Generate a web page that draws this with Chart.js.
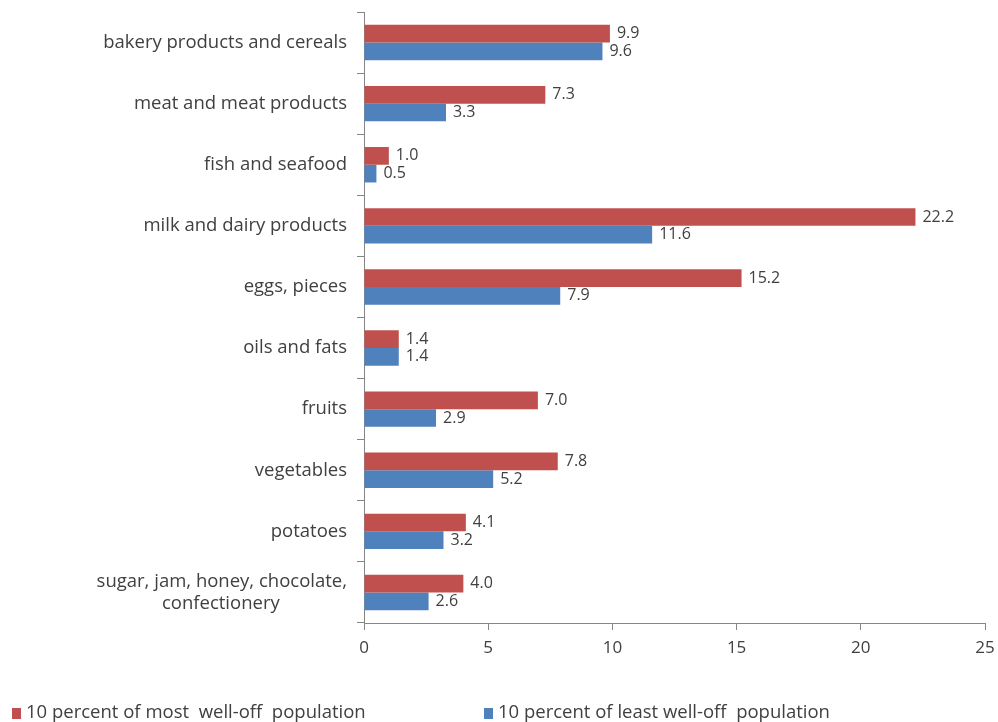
<!DOCTYPE html>
<html>
<head>
<meta charset="utf-8">
<script src="https://cdn.jsdelivr.net/npm/chart.js@4.4.0/dist/chart.umd.min.js"></script>
<style>
  body { margin: 0; background: #fff; }
  #wrap { position: relative; width: 998px; height: 722px; }
  .legend { position: absolute; top: 698px; font: 18.5px "Open Sans", sans-serif; color: #404040; white-space: pre; }
  .legend span.box { display: inline-block; width: 9px; height: 11px; margin-right: 5px; vertical-align: -1px; }
</style>
</head>
<body>
<div id="wrap">
  <canvas id="chart" width="998" height="722"></canvas>
  <div class="legend" style="left:12px"><span class="box" style="background:#C0504D"></span>10 percent of most  well-off  population</div>
  <div class="legend" style="left:484px"><span class="box" style="background:#4F81BD"></span>10 percent of least well-off  population</div>
</div>
<script>
const categories = [
  'bakery products and cereals',
  'meat and meat products',
  'fish and seafood',
  'milk and dairy products',
  'eggs, pieces',
  'oils and fats',
  'fruits',
  'vegetables',
  'potatoes',
  ['sugar, jam, honey, chocolate,', 'confectionery']
];
const mostWellOff = [9.9, 7.3, 1.0, 22.2, 15.2, 1.4, 7.0, 7.8, 4.1, 4.0];
const leastWellOff = [9.6, 3.3, 0.5, 11.6, 7.9, 1.4, 2.9, 5.2, 3.2, 2.6];

const FONT = '"Open Sans", sans-serif';
const LABEL_FONT = '18.5px ' + FONT;

// measure helper so the two-line label can be centred like the original
const measureCtx = document.createElement('canvas').getContext('2d');
measureCtx.font = LABEL_FONT;
const centreLines = (label) => {
  if (!Array.isArray(label)) return label;
  const widest = Math.max(...label.map(l => measureCtx.measureText(l).width));
  const space = measureCtx.measureText(' ').width;
  return label.map(l => l + ' '.repeat(Math.round((widest - measureCtx.measureText(l).width) / 2 / space)));
};

// draws the value next to the end of each bar
const valueLabels = {
  id: 'valueLabels',
  afterDatasetsDraw(chart) {
    const ctx = chart.ctx;
    ctx.save();
    ctx.font = '16px ' + FONT;
    ctx.fillStyle = '#404040';
    ctx.textAlign = 'left';
    ctx.textBaseline = 'middle';
    chart.data.datasets.forEach((ds, i) => {
      chart.getDatasetMeta(i).data.forEach((bar, j) => {
        ctx.fillText(ds.data[j].toFixed(1), bar.x + 7, bar.y);
      });
    });
    ctx.restore();
  }
};

new Chart(document.getElementById('chart').getContext('2d'), {
  type: 'bar',
  data: {
    labels: categories,
    datasets: [
      { label: '10 percent of most  well-off  population', data: mostWellOff, backgroundColor: '#C0504D' },
      { label: '10 percent of least well-off  population', data: leastWellOff, backgroundColor: '#4F81BD' }
    ]
  },
  options: {
    indexAxis: 'y',
    responsive: false,
    animation: false,
    categoryPercentage: 0.58,
    barPercentage: 1,
    layout: { padding: { top: 12, right: 13, left: 0, bottom: 0 } },
    plugins: { legend: { display: false }, tooltip: { enabled: false } },
    scales: {
      x: {
        min: 0, max: 25,
        ticks: { stepSize: 5, color: '#404040', font: { family: FONT, size: 17 }, padding: 8 },
        grid: { drawOnChartArea: false, drawTicks: true, tickLength: 7, color: '#868686' },
        border: { color: '#868686' },
        afterFit(axis) { axis.height = 99; axis.paddingRight = 0; }
      },
      y: {
        ticks: {
          color: '#404040', font: { family: FONT, size: 18.5 }, padding: 10,
          callback(value) { return centreLines(this.getLabelForValue(value)); }
        },
        grid: { drawOnChartArea: false, drawTicks: true, tickLength: 7, color: '#868686', offset: true },
        border: { color: '#868686' },
        afterFit(axis) { axis.width = 364; axis.paddingTop = 0; axis.paddingBottom = 0; }
      }
    }
  },
  plugins: [valueLabels]
});
</script>
</body>
</html>
